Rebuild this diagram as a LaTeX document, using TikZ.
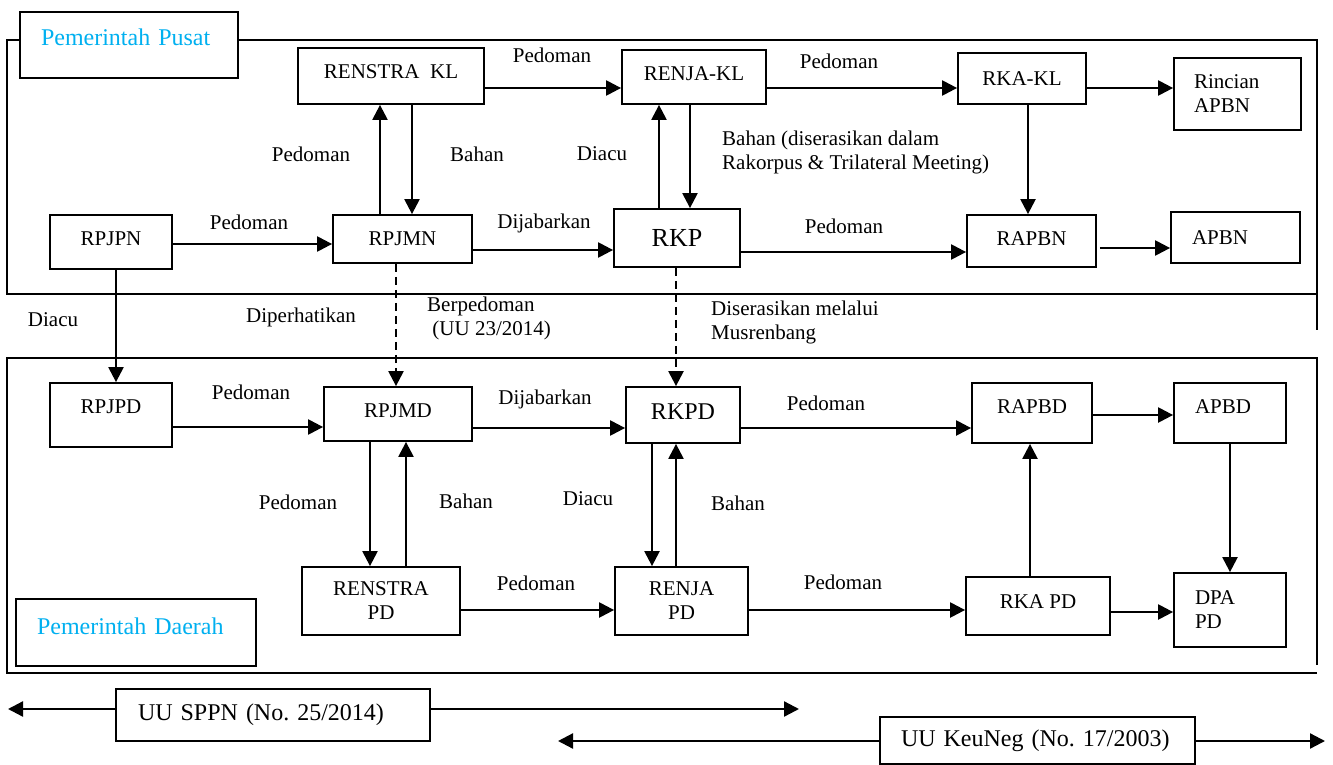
\documentclass[tikz,border=0pt]{standalone}
\usepackage{fontspec}
\setmainfont{Liberation Serif}
\usetikzlibrary{arrows.meta}
\definecolor{pemcyan}{RGB}{0,176,240}
\newcommand\lawfont{\fontsize{24}{28}\selectfont}
\newcommand\rkpfont{\fontsize{26}{30}\selectfont}
\frenchspacing
\tikzset{
  box/.style={draw, line width=1.8pt, fill=white, inner sep=0pt, align=center},
  leftbox/.style={box, align=left, inner xsep=21pt},
  arr/.style={line width=2.3pt, -{Triangle[length=15pt,width=15pt]}},
  darr/.style={arr, dash pattern=on 8pt off 5pt},
  lbl/.style={inner sep=0pt},
  frame/.style={line width=1.6pt},
}

\begin{document}
\begin{tikzpicture}[x=1pt, y=-1pt, font=\fontsize{21}{24}\selectfont]
      \useasboundingbox (0,0) rectangle (1333,765);

      % frames
      \draw [frame] (7,40) rectangle (1317,294);
      \draw [frame] (1317,294) -- (1317,330);
      \draw [frame] (1317,665) -- (1317,358) -- (7,358) -- (7,673) -- (1317,673);

      \node [leftbox, minimum width=218pt, minimum height=66pt, text width=176pt,
        text depth=16pt, text=pemcyan, font=\lawfont] (pusat) at (129,45) {Pemerintah Pusat};
      \node [leftbox, minimum width=240pt, minimum height=67pt, text width=198pt,
        text depth=13pt, text=pemcyan, font=\lawfont] (daerah) at (136,632.5) {Pemerintah Daerah};

      % pusat
      \node [box, minimum width=186pt, minimum height=56pt, text depth=8pt] (renstrakl) at (391,76) {RENSTRA\ \ KL};
      \node [box, minimum width=144pt, minimum height=54pt, text depth=6pt] (renjakl) at (694,77) {RENJA-KL};
      \node [box, minimum width=128pt, minimum height=51pt] (rkakl) at (1022,78.5) {RKA-KL};
      \node [leftbox, inner xsep=20pt, minimum width=127pt, minimum height=72pt, text width=87pt] (rincian) at (1237.5,94) {Rincian\\APBN};
      \node [box, minimum width=122pt, minimum height=54pt, text depth=6pt] (rpjpn) at (111,242) {RPJPN};
      \node [box, minimum width=139pt, minimum height=48pt] (rpjmn) at (402.5,239) {RPJMN};
      \node [box, minimum width=126pt, minimum height=58pt, font=\rkpfont] (rkp) at (677,238) {RKP};
      \node [box, minimum width=129pt, minimum height=52pt, text depth=4pt] (rapbn) at (1031.5,241) {RAPBN};
      \node [leftbox, minimum width=129pt, minimum height=51pt, text width=87pt] (apbn) at (1235.5,237.5) {APBN};

      % daerah
      \node [box, minimum width=122pt, minimum height=64pt, text depth=16pt] (rpjpd) at (111,415) {RPJPD};
      \node [box, minimum width=148pt, minimum height=54pt, text depth=6pt] (rpjmd) at (398,414) {RPJMD};
      \node [box, minimum width=114pt, minimum height=56pt, text depth=6pt, font=\lawfont] (rkpd) at (683,415) {RKPD};
      \node [box, minimum width=120pt, minimum height=60pt, text depth=12pt] (rapbd) at (1032,413) {RAPBD};
      \node [leftbox, minimum width=112pt, minimum height=60pt, text width=70pt, text depth=12pt] (apbd) at (1230,413) {APBD};
      \node [box, minimum width=158pt, minimum height=68pt] (renstrapd) at (381,601) {RENSTRA\\PD};
      \node [box, minimum width=133pt, minimum height=68pt] (renjapd) at (681.5,601) {RENJA\\PD};
      \node [box, minimum width=144pt, minimum height=58pt, text depth=8pt] (rkapd) at (1038,606) {RKA PD};
      \node [leftbox, minimum width=112pt, minimum height=74pt, text width=70pt] (dpapd) at (1230,610) {DPA\\PD};

      % undang-undang
      \node [leftbox, inner xsep=22pt, minimum width=314pt, minimum height=52pt, text width=270pt,
        font=\lawfont] (uusppn) at (273,715) {UU SPPN (No. 25/2014)};
      \node [leftbox, minimum width=315pt, minimum height=47pt, text width=273pt,
        font=\lawfont] (uukeuneg) at (1037.5,740.5) {UU KeuNeg (No. 17/2003)};
      \coordinate (sppnL) at (8,709);
      \coordinate (sppnR) at (799,709);
      \coordinate (keuL) at (558,741);
      \coordinate (keuR) at (1325,741);

      % connectors pusat
      \draw [arr] (renstrakl.east |- 0,88) -- (renjakl.west |- 0,88);
      \draw [arr] (renjakl.east |- 0,88) -- (rkakl.west |- 0,88);
      \draw [arr] (rkakl.east |- 0,88) -- (rincian.west |- 0,88);
      \draw [arr] (rkakl.south -| 1028,0) -- (rapbn.north -| 1028,0);
      \draw [arr] (rpjmn.north -| 380,0) -- (renstrakl.south -| 380,0);
      \draw [arr] (renstrakl.south -| 412,0) -- (rpjmn.north -| 412,0);
      \draw [arr] (rpjpn.east |- 0,244) -- (rpjmn.west |- 0,244);
      \draw [arr] (rpjmn.east |- 0,250) -- (rkp.west |- 0,250);
      \draw [arr] (rkp.north -| 659,0) -- (renjakl.south -| 659,0);
      \draw [arr] (renjakl.south -| 690,0) -- (rkp.north -| 690,0);
      \draw [arr] (rkp.east |- 0,252) -- (rapbn.west |- 0,252);
      \draw [arr] ([xshift=3pt]rapbn.east |- 0,248) -- (apbn.west |- 0,248);

      % pusat ke daerah
      \draw [arr] (rpjpn.south -| 116,0) -- (rpjpd.north -| 116,0);
      \draw [darr] (rpjmn.south -| 396,0) -- (rpjmd.north -| 396,0);
      \draw [darr] (rkp.south -| 676,0) -- (rkpd.north -| 676,0);

      % connectors daerah
      \draw [arr] (rpjpd.east |- 0,427) -- (rpjmd.west |- 0,427);
      \draw [arr] (rpjmd.east |- 0,428) -- (rkpd.west |- 0,428);
      \draw [arr] (rkpd.east |- 0,428) -- (rapbd.west |- 0,428);
      \draw [arr] (rapbd.east |- 0,415) -- (apbd.west |- 0,415);
      \draw [arr] (apbd.south) -- (dpapd.north);
      \draw [arr] (rkapd.north -| 1030,0) -- (rapbd.south -| 1030,0);
      \draw [arr] (rkapd.east |- 0,612) -- (dpapd.west |- 0,612);
      \draw [arr] (rpjmd.south -| 370,0) -- (renstrapd.north -| 370,0);
      \draw [arr] (renstrapd.north -| 406,0) -- (rpjmd.south -| 406,0);
      \draw [arr] (renstrapd.east |- 0,610) -- (renjapd.west |- 0,610);
      \draw [arr] (rkpd.south -| 652,0) -- (renjapd.north -| 652,0);
      \draw [arr] (renjapd.north -| 676,0) -- (rkpd.south -| 676,0);
      \draw [arr] (renjapd.east |- 0,610) -- (rkapd.west |- 0,610);

      % undang-undang
      \draw [arr] (uusppn.west |- sppnL) -- (sppnL);
      \draw [arr] (uusppn.east |- sppnR) -- (sppnR);
      \draw [arr] (uukeuneg.west |- keuL) -- (keuL);
      \draw [arr] (uukeuneg.east |- keuR) -- (keuR);

      % labels
      \node [lbl] (lb1) at (552,55) {Pedoman};
      \node [lbl] (lb2) at (839,61) {Pedoman};
      \node [lbl] (lb3) at (311,154) {Pedoman};
      \node [lbl] (lb4) at (477,154) {Bahan};
      \node [lbl] (lb5) at (602,154) {Diacu};
      \node [lbl, anchor=west, align=left] (lb6) at (722,152.5)
        {Bahan (diserasikan dalam\\Rakorpus \& Trilateral Meeting)};
      \node [lbl] (lb7) at (249,222) {Pedoman};
      \node [lbl] (lb8) at (544,223) {Dijabarkan};
      \node [lbl] (lb9) at (844,226) {Pedoman};
      \node [lbl] (lb10) at (53,320) {Diacu};
      \node [lbl] (lb11) at (301,317) {Diperhatikan};
      \node [lbl, anchor=west, align=left] (lb12) at (427,318) {Berpedoman\\~(UU 23/2014)};
      \node [lbl, anchor=west, align=left] (lb13) at (711,322) {Diserasikan melalui\\Musrenbang};
      \node [lbl] (lb14) at (251,392) {Pedoman};
      \node [lbl] (lb15) at (545,399) {Dijabarkan};
      \node [lbl] (lb16) at (826,403) {Pedoman};
      \node [lbl] (lb17) at (298,502) {Pedoman};
      \node [lbl] (lb18) at (466,501) {Bahan};
      \node [lbl] (lb19) at (588,499) {Diacu};
      \node [lbl] (lb20) at (738,503) {Bahan};
      \node [lbl] (lb21) at (536,583) {Pedoman};
      \node [lbl] (lb22) at (843,582) {Pedoman};
    \end{tikzpicture}
\end{document}
